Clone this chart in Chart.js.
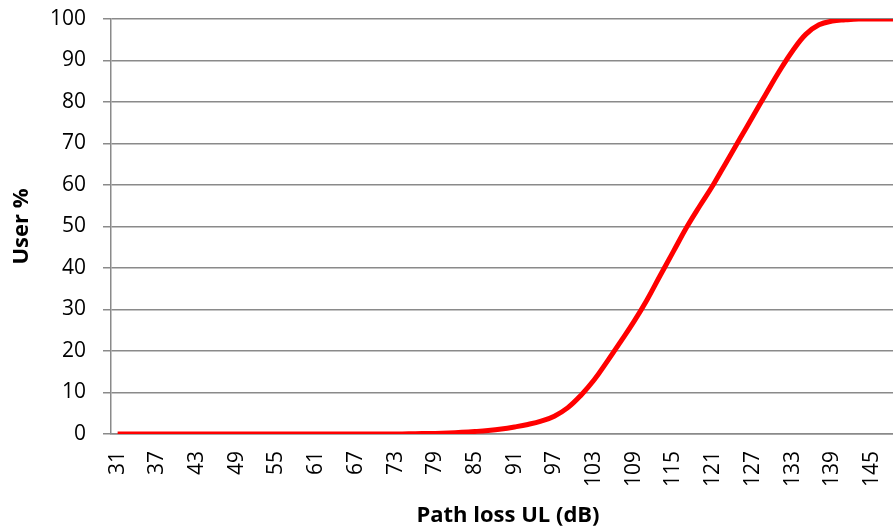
<!DOCTYPE html>
<html>
<head>
<meta charset="utf-8">
<script src="https://cdn.jsdelivr.net/npm/chart.js@4/dist/chart.umd.min.js"></script>
<style>
  html, body { margin: 0; padding: 0; background: #ffffff; overflow: hidden; }
  #wrap { width: 905px; height: 531px; }
</style>
</head>
<body>
<div id="wrap"><canvas id="c" width="905" height="531"></canvas></div>
<script>
// Path loss UL (dB), sampled every 2 dB
const pathLoss = [31,33,35,37,39,41,43,45,47,49,51,53,55,57,59,61,63,65,67,69,
                  71,73,75,77,79,81,83,85,87,89,91,93,95,97,99,101,103,105,107,109,
                  111,113,115,117,119,121,123,125,127,129,131,133,135,137,139,141,143,145,147,149];
// Cumulative user share (%)
const userPct = [0,0,0,0,0,0,0,0,0,0,0,0,0,0,0,0,0,0,0,0,
                 0,0,0.05,0.1,0.15,0.25,0.4,0.6,0.85,1.2,1.7,2.3,3.1,4.3,6.3,9.3,13,17.5,22.2,27,
                 32.3,38.2,44,49.8,55,60,65.5,71,76.5,82,87.4,92.3,96.3,98.6,99.5,99.8,100,100,100,100];
const yTicks = [0,10,20,30,40,50,60,70,80,90,100];
const xTitle = 'Path loss UL (dB)';
const yTitle = 'User %';

const gridGray = '#8a8a8a';
const fontFam = '"Open Sans", "DejaVu Sans", sans-serif';

new Chart(document.getElementById('c'), {
  type: 'line',
  data: {
    labels: pathLoss.map(String),
    datasets: [{
      data: userPct,
      borderColor: '#ff0000',
      borderWidth: 5,
      pointRadius: 0,
      tension: 0.4,
      fill: false
    }]
  },
  options: {
    responsive: false,
    animation: false,
    layout: { padding: { top: 19, right: 0, left: 0, bottom: 0 } },
    plugins: { legend: { display: false }, tooltip: { enabled: false } },
    scales: {
      x: {
        type: 'category',
        offset: true,
        grid: { display: false, drawTicks: false },
        border: { display: true, color: gridGray, width: 1.5 },
        afterFit: function(axis) { axis.height = 97; axis.paddingLeft = 0; axis.paddingRight = 0; },
        ticks: {
          autoSkip: false,
          minRotation: 90,
          maxRotation: 90,
          padding: 17,
          color: '#000',
          font: { family: fontFam, size: 21 },
          callback: function(v, i) { return i % 3 === 0 ? this.getLabelForValue(v) : ''; }
        },
        title: {
          display: true,
          text: xTitle,
          color: '#000',
          font: { family: fontFam, size: 22, weight: 'bold' },
          padding: { top: 0, bottom: 2 }
        }
      },
      y: {
        min: 0,
        max: 100,
        afterBuildTicks: function(axis) { axis.ticks = yTicks.map(v => ({ value: v })); },
        afterFit: function(axis) { axis.width = 111; axis.paddingTop = 0; axis.paddingBottom = 0; },
        grid: { color: gridGray, lineWidth: 1.5, tickLength: 8, drawTicks: true },
        border: { display: true, color: gridGray, width: 1.5 },
        ticks: {
          padding: 17,
          color: '#000',
          font: { family: fontFam, size: 21 }
        },
        title: {
          display: true,
          text: yTitle,
          color: '#000',
          font: { family: fontFam, size: 22, weight: 'bold' },
          padding: { top: 9, bottom: 0 }
        }
      }
    }
  }
});
</script>
</body>
</html>
